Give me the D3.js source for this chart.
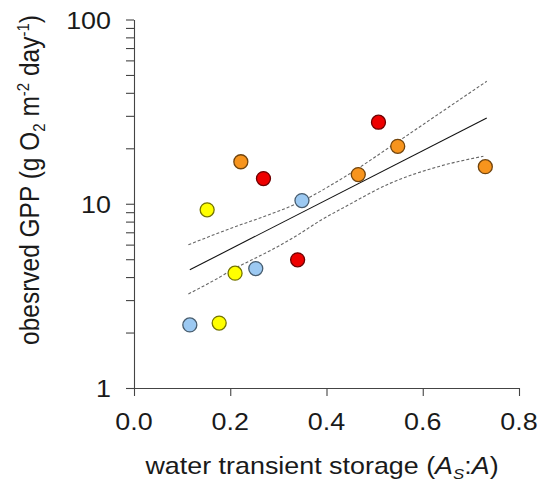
<!DOCTYPE html>
<html>
<head>
<meta charset="utf-8">
<script src="https://cdn.jsdelivr.net/npm/d3@7"></script>
<style>
  body { margin: 0; background: #fff; }
  text { font-family: "Liberation Sans", Arial, sans-serif; fill: #1a1a1a; }
</style>
</head>
<body>
<svg id="chart"></svg>
<script>
// values (x = As:A, y = GPP)
const blueX = [0.116, 0.253, 0.349]
const blueY = [2.20, 4.45, 10.4]
const yellowX = [0.152, 0.177, 0.210]
const yellowY = [9.27, 2.25, 4.20]
const orangeX = [0.222, 0.466, 0.548, 0.730]
const orangeY = [16.9, 14.4, 20.5, 15.9]
const redX = [0.269, 0.340, 0.508]
const redY = [13.7, 4.96, 27.7]

// regression + confidence band
const fitX = [0.116, 0.733]
const fitY = [4.38, 29.2]
const upperX = [0.113, 0.210, 0.269, 0.348, 0.428, 0.549, 0.636, 0.733]
const upperY = [5.99, 7.5, 8.5, 10.3, 13.5, 21.8, 31.1, 46.2]
const lowerX = [0.113, 0.168, 0.210, 0.245, 0.286, 0.335, 0.390, 0.44, 0.532, 0.636, 0.726]
const lowerY = [3.24, 3.86, 4.47, 4.96, 5.62, 6.64, 8.19, 9.67, 12.9, 16.0, 18.1]

const xTicks = [0, 0.2, 0.4, 0.6, 0.8]
const yLabels = [1, 10, 100]

const width = 539, height = 484
const margin = {top: 19.5, right: 20, bottom: 96, left: 134}
const sx = 1.12 // source picture is a bit stretched sideways

const svg = d3.select('#chart').attr('width', width).attr('height', height)

const x = d3.scaleLinear().domain([0, 0.8]).range([margin.left, width - margin.right])
const y = d3.scaleLog().domain([1, 100]).range([height - margin.bottom, margin.top])

const zip = (xs, ys) => xs.map((v, i) => ({x: v, y: ys[i]}))

// y axis, ticks at 1..9, 10..90, 100
let yTickVals = []
for (let d = 1; d < 100; d *= 10) for (let k = 1; k < 10; k++) yTickVals.push(k * d)
yTickVals.push(100)

let yAxis = svg.append('g')
    .attr('transform', `translate(${margin.left},0)`)
    .call(d3.axisLeft(y).tickValues(yTickVals).tickSize(8).tickSizeOuter(0).tickFormat(''))
yAxis.selectAll('path, line').attr('stroke', '#444').attr('stroke-width', 1.1)

yAxis.selectAll('.lbl')
    .data(yLabels)
    .enter().append('text')
    .attr('class', 'lbl')
    .attr('transform', d => `translate(-23,${y(d) + 1}) scale(${sx},1)`)
    .attr('text-anchor', 'end')
    .attr('dy', '0.35em')
    .style('font-size', '24px')
    .text(d => d)

// x axis
let xAxis = svg.append('g')
    .attr('transform', `translate(0,${height - margin.bottom})`)
    .call(d3.axisBottom(x).tickValues(xTicks).tickSize(8).tickSizeOuter(0).tickFormat(''))
xAxis.selectAll('path, line').attr('stroke', '#444').attr('stroke-width', 1.1)

xAxis.selectAll('.lbl')
    .data(xTicks)
    .enter().append('text')
    .attr('class', 'lbl')
    .attr('transform', d => `translate(${x(d)},42) scale(${sx},1)`)
    .attr('text-anchor', 'middle')
    .style('font-size', '24px')
    .text(d => d3.format('.1f')(d))

// axis titles
let xt = svg.append('text')
    .attr('transform', `translate(322,474) scale(${sx},1)`)
    .attr('text-anchor', 'middle')
    .style('font-size', '24px')
xt.append('tspan').text('water transient storage (')
xt.append('tspan').style('font-style', 'italic').text('A')
xt.append('tspan').style('font-style', 'italic').style('font-size', '15px').attr('dy', 5).text('S')
xt.append('tspan').attr('dy', -5).text(':')
xt.append('tspan').style('font-style', 'italic').text('A')
xt.append('tspan').text(')')

let yt = svg.append('text')
    .attr('transform', `translate(39,180) scale(${sx},1) rotate(-90)`)
    .attr('text-anchor', 'middle')
    .style('font-size', '24.5px')
yt.append('tspan').text('obesrved GPP (g O')
yt.append('tspan').style('font-size', '15px').attr('dy', 5).text('2')
yt.append('tspan').attr('dy', -5).text(' m')
yt.append('tspan').style('font-size', '15px').attr('dy', -9).text('-2')
yt.append('tspan').attr('dy', 9).text(' day')
yt.append('tspan').style('font-size', '15px').attr('dy', -9).text('-1')
yt.append('tspan').attr('dy', 9).text(')')

// fit and band
let line = d3.line().x(d => x(d.x)).y(d => y(d.y)).curve(d3.curveMonotoneX)

svg.append('path')
    .datum(zip(fitX, fitY))
    .attr('d', line)
    .attr('fill', 'none')
    .attr('stroke', '#111')
    .attr('stroke-width', 1.1)

svg.selectAll('.band')
    .data([zip(upperX, upperY), zip(lowerX, lowerY)])
    .enter().append('path')
    .attr('class', 'band')
    .attr('d', line)
    .attr('fill', 'none')
    .attr('stroke', '#666')
    .attr('stroke-width', 1.1)
    .attr('stroke-dasharray', '3,2')

// points
const groups = [
    {color: '#9cc9f2', pts: zip(blueX, blueY)},
    {color: '#ffff00', pts: zip(yellowX, yellowY)},
    {color: '#f7941d', pts: zip(orangeX, orangeY)},
    {color: '#ee0000', pts: zip(redX, redY)}
]

groups.forEach(g => {
    svg.append('g')
        .selectAll('circle')
        .data(g.pts)
        .enter().append('circle')
        .attr('cx', d => x(d.x))
        .attr('cy', d => y(d.y))
        .attr('r', 7)
        .attr('fill', g.color)
        .attr('stroke', d3.color(g.color).darker(2.2))
        .attr('stroke-width', 1.3)
})
</script>
</body>
</html>
